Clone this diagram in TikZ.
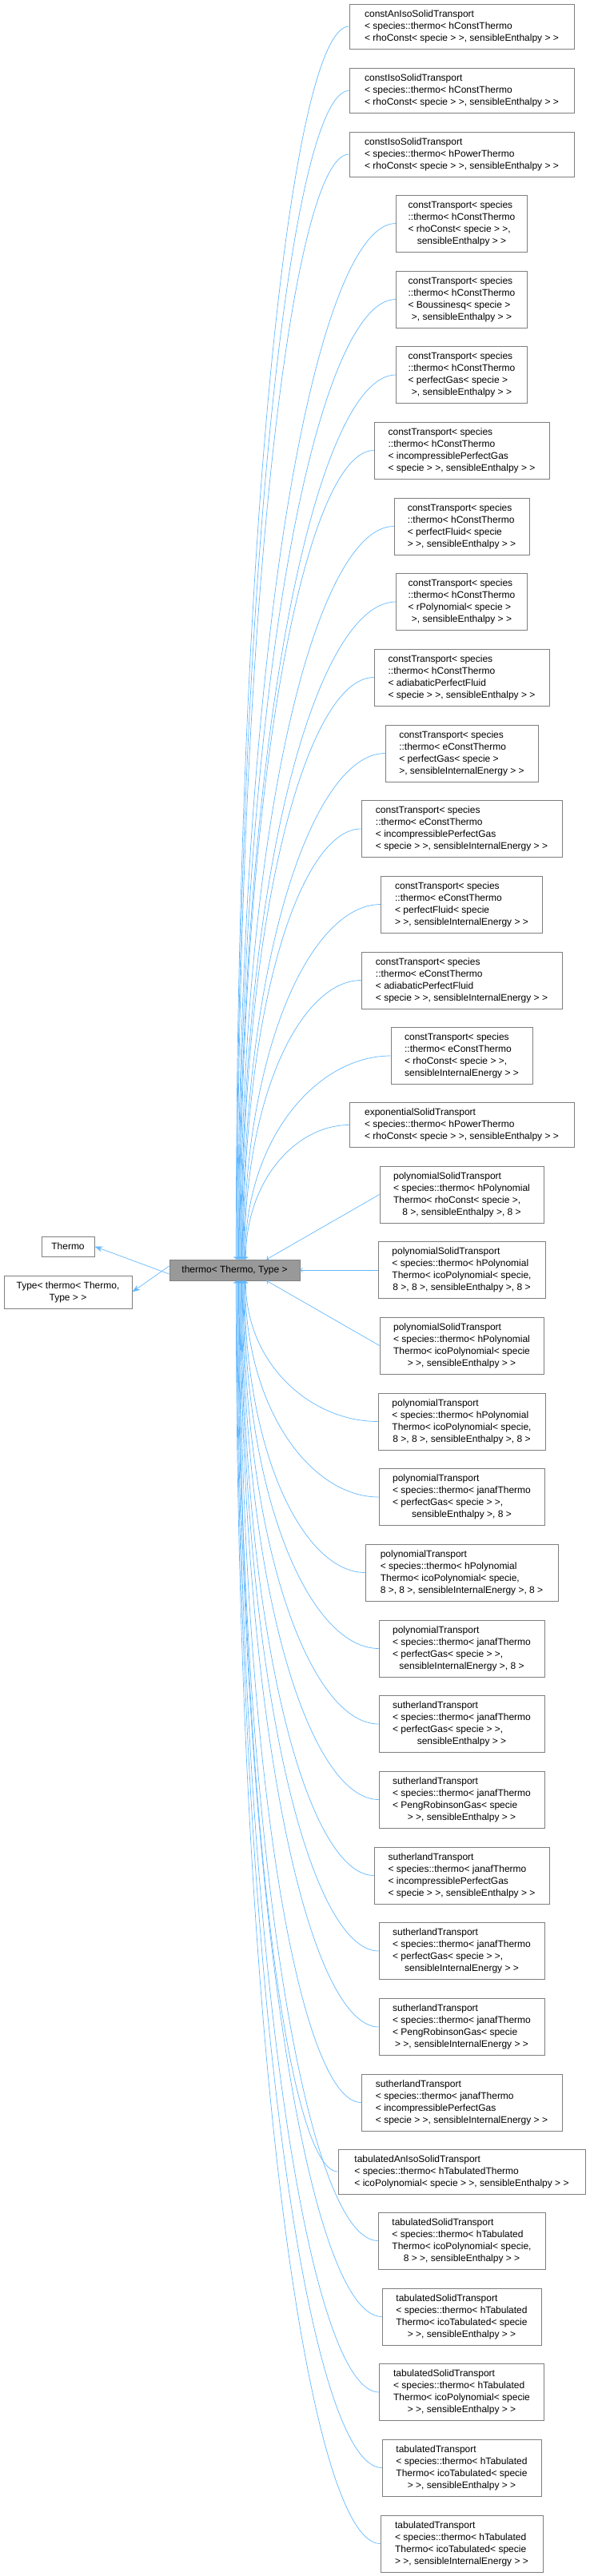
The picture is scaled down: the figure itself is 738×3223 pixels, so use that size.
\documentclass[tikz,border=0pt]{standalone}
\usepackage{fontspec}
\setmainfont{Liberation Sans}
\usetikzlibrary{arrows.meta,calc}
\definecolor{edgeblue}{HTML}{63B8FF}
\definecolor{boxgray}{HTML}{7F7F7F}
\definecolor{basegray}{HTML}{999999}
\newcommand{\cls}[2]{\begin{tabular}{@{}l@{}}#1\\\multicolumn{1}{@{}c@{}}{#2}\end{tabular}}
\tikzset{
  cls/.style={draw=boxgray, line width=0.8pt, fill=white, inner sep=0pt,
    font=\fontsize{12}{15}\selectfont, minimum height=#1},
  cls/.default=71pt,
  edge/.style={draw=edgeblue, line width=0.7pt, -{Stealth[length=10pt,width=7pt]}},
}
\begin{document}
\begin{tikzpicture}[x=1pt, y=-1pt]
    \useasboundingbox (0,0) rectangle (738,3223);

    \node[cls=26pt, fill=basegray, minimum width=163pt] (c) at (293.5,1589) {thermo< Thermo, Type >};
    \node[cls=25pt, minimum width=66pt] (thermo) at (85,1559.5) {Thermo};
    \node[cls=41pt, minimum width=160pt] (type) at (85,1616.5) {\begin{tabular}{@{}c@{}}Type< thermo< Thermo,\\Type > >\end{tabular}};

    \node[cls=56pt, minimum width=281pt] (b1) at (577.5,33) {\cls{constAnIsoSolidTransport\\< species::thermo< hConstThermo}{< rhoConst< specie > >, sensibleEnthalpy > >}};
    \node[cls=56pt, minimum width=281pt] (b2) at (577.5,113.5) {\cls{constIsoSolidTransport\\< species::thermo< hConstThermo}{< rhoConst< specie > >, sensibleEnthalpy > >}};
    \node[cls=56pt, minimum width=281pt] (b3) at (577.5,193) {\cls{constIsoSolidTransport\\< species::thermo< hPowerThermo}{< rhoConst< specie > >, sensibleEnthalpy > >}};
    \node[cls, minimum width=164pt] (b4) at (577.5,279.5) {\cls{constTransport< species\\::thermo< hConstThermo\\< rhoConst< specie > >,}{sensibleEnthalpy > >}};
    \node[cls, minimum width=164pt] (b5) at (577.5,374.5) {\cls{constTransport< species\\::thermo< hConstThermo\\< Boussinesq< specie >}{>, sensibleEnthalpy > >}};
    \node[cls, minimum width=164pt] (b6) at (577.5,469) {\cls{constTransport< species\\::thermo< hConstThermo\\< perfectGas< specie >}{>, sensibleEnthalpy > >}};
    \node[cls, minimum width=219pt] (b7) at (577.5,563.5) {\cls{constTransport< species\\::thermo< hConstThermo\\< incompressiblePerfectGas}{< specie > >, sensibleEnthalpy > >}};
    \node[cls, minimum width=169pt] (b8) at (577.5,658.5) {\cls{constTransport< species\\::thermo< hConstThermo\\< perfectFluid< specie}{> >, sensibleEnthalpy > >}};
    \node[cls, minimum width=164pt] (b9) at (577.5,753) {\cls{constTransport< species\\::thermo< hConstThermo\\< rPolynomial< specie >}{>, sensibleEnthalpy > >}};
    \node[cls, minimum width=219pt] (b10) at (577.5,847.5) {\cls{constTransport< species\\::thermo< hConstThermo\\< adiabaticPerfectFluid}{< specie > >, sensibleEnthalpy > >}};
    \node[cls, minimum width=191pt] (b11) at (577.5,942.5) {\cls{constTransport< species\\::thermo< eConstThermo\\< perfectGas< specie >}{>, sensibleInternalEnergy > >}};
    \node[cls, minimum width=251pt] (b12) at (577.5,1037) {\cls{constTransport< species\\::thermo< eConstThermo\\< incompressiblePerfectGas}{< specie > >, sensibleInternalEnergy > >}};
    \node[cls, minimum width=202pt] (b13) at (577.5,1131.5) {\cls{constTransport< species\\::thermo< eConstThermo\\< perfectFluid< specie}{> >, sensibleInternalEnergy > >}};
    \node[cls, minimum width=251pt] (b14) at (577.5,1226.5) {\cls{constTransport< species\\::thermo< eConstThermo\\< adiabaticPerfectFluid}{< specie > >, sensibleInternalEnergy > >}};
    \node[cls, minimum width=177pt] (b15) at (577.5,1321) {\cls{constTransport< species\\::thermo< eConstThermo\\< rhoConst< specie > >,}{sensibleInternalEnergy > >}};
    \node[cls=56pt, minimum width=281pt] (b16) at (577.5,1407.5) {\cls{exponentialSolidTransport\\< species::thermo< hPowerThermo}{< rhoConst< specie > >, sensibleEnthalpy > >}};
    \node[cls, minimum width=205pt] (b17) at (577.5,1494.5) {\cls{polynomialSolidTransport\\< species::thermo< hPolynomial\\Thermo< rhoConst< specie >,}{8 >, sensibleEnthalpy >, 8 >}};
    \node[cls, minimum width=209pt] (b18) at (577.5,1589) {\cls{polynomialSolidTransport\\< species::thermo< hPolynomial\\Thermo< icoPolynomial< specie,}{8 >, 8 >, sensibleEnthalpy >, 8 >}};
    \node[cls, minimum width=205pt] (b19) at (577.5,1683.5) {\cls{polynomialSolidTransport\\< species::thermo< hPolynomial\\Thermo< icoPolynomial< specie}{> >, sensibleEnthalpy > >}};
    \node[cls, minimum width=209pt] (b20) at (577.5,1778.5) {\cls{polynomialTransport\\< species::thermo< hPolynomial\\Thermo< icoPolynomial< specie,}{8 >, 8 >, sensibleEnthalpy >, 8 >}};
    \node[cls, minimum width=207pt] (b21) at (577.5,1873) {\cls{polynomialTransport\\< species::thermo< janafThermo\\< perfectGas< specie > >,}{sensibleEnthalpy >, 8 >}};
    \node[cls, minimum width=241pt] (b22) at (577.5,1967.5) {\cls{polynomialTransport\\< species::thermo< hPolynomial\\Thermo< icoPolynomial< specie,}{8 >, 8 >, sensibleInternalEnergy >, 8 >}};
    \node[cls, minimum width=207pt] (b23) at (577.5,2062.5) {\cls{polynomialTransport\\< species::thermo< janafThermo\\< perfectGas< specie > >,}{sensibleInternalEnergy >, 8 >}};
    \node[cls, minimum width=207pt] (b24) at (577.5,2157) {\cls{sutherlandTransport\\< species::thermo< janafThermo\\< perfectGas< specie > >,}{sensibleEnthalpy > >}};
    \node[cls, minimum width=207pt] (b25) at (577.5,2251.5) {\cls{sutherlandTransport\\< species::thermo< janafThermo\\< PengRobinsonGas< specie}{> >, sensibleEnthalpy > >}};
    \node[cls, minimum width=219pt] (b26) at (577.5,2346.5) {\cls{sutherlandTransport\\< species::thermo< janafThermo\\< incompressiblePerfectGas}{< specie > >, sensibleEnthalpy > >}};
    \node[cls, minimum width=207pt] (b27) at (577.5,2441) {\cls{sutherlandTransport\\< species::thermo< janafThermo\\< perfectGas< specie > >,}{sensibleInternalEnergy > >}};
    \node[cls, minimum width=207pt] (b28) at (577.5,2536) {\cls{sutherlandTransport\\< species::thermo< janafThermo\\< PengRobinsonGas< specie}{> >, sensibleInternalEnergy > >}};
    \node[cls, minimum width=251pt] (b29) at (577.5,2630.5) {\cls{sutherlandTransport\\< species::thermo< janafThermo\\< incompressiblePerfectGas}{< specie > >, sensibleInternalEnergy > >}};
    \node[cls=56pt, minimum width=309pt] (b30) at (577.5,2717) {\cls{tabulatedAnIsoSolidTransport\\< species::thermo< hTabulatedThermo}{< icoPolynomial< specie > >, sensibleEnthalpy > >}};
    \node[cls, minimum width=209pt] (b31) at (577.5,2803.5) {\cls{tabulatedSolidTransport\\< species::thermo< hTabulated\\Thermo< icoPolynomial< specie,}{8 > >, sensibleEnthalpy > >}};
    \node[cls, minimum width=199pt] (b32) at (577.5,2898.5) {\cls{tabulatedSolidTransport\\< species::thermo< hTabulated\\Thermo< icoTabulated< specie}{> >, sensibleEnthalpy > >}};
    \node[cls, minimum width=206pt] (b33) at (577.5,2993) {\cls{tabulatedSolidTransport\\< species::thermo< hTabulated\\Thermo< icoPolynomial< specie}{> >, sensibleEnthalpy > >}};
    \node[cls, minimum width=199pt] (b34) at (577.5,3087.5) {\cls{tabulatedTransport\\< species::thermo< hTabulated\\Thermo< icoTabulated< specie}{> >, sensibleEnthalpy > >}};
    \node[cls, minimum width=203pt] (b35) at (577.5,3182.5) {\cls{tabulatedTransport\\< species::thermo< hTabulated\\Thermo< icoTabulated< specie}{> >, sensibleInternalEnergy > >}};

    % base classes
    \draw[edge] ([yshift=-5]c.west) -- (thermo.east);
    \draw[edge] ([yshift=5]c.west) -- (type.east);

    % derived classes above and below
    \foreach \i in {1,...,16}
        \draw[edge, <-] let \p1=(b\i.west), \p2=([xshift=\i*0.8+1]c.north) in
            (\p2) .. controls (\x2, \y1*0.6+\y2*0.4) and (\x2*0.5+\x1*0.5, \y1) .. (\p1);
    \draw[edge, <-] ([xshift=40]c.north) -- (b17.west);
    \draw[edge, <-] (c.east) -- (b18.west);
    \draw[edge, <-] ([xshift=40]c.south) -- (b19.west);
    \foreach \i in {20,...,35}
        \draw[edge, <-] let \p1=(b\i.west), \p2=([xshift=(36-\i)*0.8+1]c.south) in
            (\p2) .. controls (\x2, \y1*0.6+\y2*0.4) and (\x2*0.5+\x1*0.5, \y1) .. (\p1);
\end{tikzpicture}
\end{document}
